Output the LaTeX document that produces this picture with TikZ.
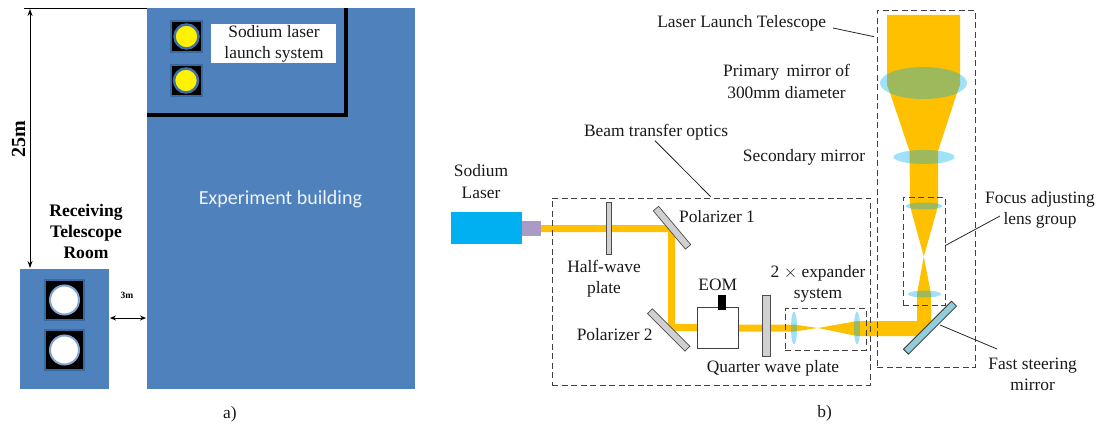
\documentclass[tikz,border=0pt]{standalone}
\usepackage{fontspec}
\setmainfont{Liberation Serif}
\newfontfamily\calib{Carlito}
\usetikzlibrary{arrows.meta,shapes.geometric}
\definecolor{bldg}{HTML}{4F81BD}
\definecolor{halo}{HTML}{2F5F96}
\definecolor{beam}{HTML}{FFC000}
\definecolor{lensc}{HTML}{00B0F0}
\definecolor{laserc}{HTML}{00B0F0}
\definecolor{purp}{HTML}{A99BC6}
\definecolor{plate}{HTML}{D0D0D0}
\definecolor{fsm}{HTML}{92CDDC}
\tikzset{
 lbl/.style={font=\fontsize{17.4}{21.3}\selectfont,inner sep=0pt,align=center,text=black!90},
 boldlbl/.style={font=\fontsize{17.6}{21.3}\selectfont\bfseries,inner sep=0pt,align=center},
 room/.style={fill=bldg,draw=none,inner sep=0pt},
 scope1/.style={fill=black,draw=halo!70!bldg,line width=2pt,inner sep=0pt,minimum size=#1},
 yell/.style={circle,fill=yellow,draw=halo!50!bldg,line width=2.5pt,inner sep=0pt,minimum size=24pt},
 whitec/.style={circle,fill=white,draw=bldg!70!white,line width=2pt,inner sep=0pt,minimum size=29pt},
 dashbox/.style={draw=black!75,line width=.8pt,dash pattern=on 6pt off 3.5pt,inner sep=0pt},
 leader/.style={draw=black!85,line width=.8pt},
 dim/.style={draw=black,line width=.9pt,{Stealth[length=7pt,width=5pt]}-{Stealth[length=7pt,width=5pt]}},
 optic/.style={fill=plate,draw=black!70,line width=.7pt,inner sep=0pt},
 lens/.style={ellipse,fill=lensc,fill opacity=.38,draw=none,inner sep=0pt},
 beamfill/.style={fill=beam,draw=none},
}
\begin{document}
\begin{tikzpicture}[x=1pt,y=-1pt]
\useasboundingbox (0,0) rectangle (1099,425);
% ===== panel a
\node[room,anchor=north west,minimum width=268pt,minimum height=381pt] (bldg) at (147,8) {};
\node[room,anchor=north west,minimum width=89pt,minimum height=120pt] (rtr) at (20,269) {};
\coordinate (wa) at (346,8);
\coordinate (wb) at (346,115);
\coordinate (wc) at (147,115);
\draw[line width=3.6pt,black,line join=miter] (wa) -- (wb) -- (wc);
\node[scope1=31pt] (ys1) at (186.5,36.5) {};
\node[yell] (yc1) at (186.5,36.5) {};
\node[scope1=31pt] (ys2) at (186,80.5) {};
\node[yell] (yc2) at (186,80.5) {};
\node[scope1=39.5pt] (ws1) at (64.5,300) {};
\node[whitec] (wc1) at (64.5,300) {};
\node[scope1=39.5pt] (ws2) at (64.5,350) {};
\node[whitec] (wc2) at (64.5,350) {};
\node[fill=white,inner sep=0pt,minimum width=125pt,minimum height=39pt] (slbox) at (273.5,43.5) {};
\node[lbl] (sl) at (274,44) {Sodium laser\\launch system};
\node[font=\calib\fontsize{20}{24}\selectfont,text=white!90!bldg,inner sep=0pt] (eb) at (280.5,199) {Experiment building};
\node[boldlbl] (rt) at (86,231.5) {Receiving\\Telescope\\Room};
\node[font=\fontsize{20}{24}\selectfont\bfseries,rotate=90,inner sep=0pt] (h25) at (18.5,139) {25m};
\node[font=\fontsize{9.5}{11}\selectfont\bfseries,inner sep=0pt] (m3) at (127,295) {3m};
\node[lbl] (capa) at (230,414) {a)};
\coordinate (tl) at (24,8);
\coordinate (tr) at (147,8);
\draw[draw=black,line width=.8pt] (tl) -- (tr);
\coordinate (d1) at (30,9);
\coordinate (d2) at (30,268);
\draw[dim] (d1) -- (d2);
\coordinate (e1) at (110,318);
\coordinate (e2) at (146,318);
\draw[dim,{Stealth[length=6pt,width=5pt]}-{Stealth[length=6pt,width=5pt]}] (e1) -- (e2);
% ===== panel b: beam
\fill[beamfill] (541,225) -- (669.5,225) -- (675,231.5) -- (675,324) -- (700,324) -- (700,331) -- (668,331) -- (668,232) -- (541,232) -- cycle;
\fill[beamfill] (738,324.5) -- (794,324.5) -- (818,328) -- (857,321) -- (917,321) -- (917,294) -- (923.8,256.5) -- (910,206) -- (909.5,151) -- (890,93) -- (887,85) -- (887,15) -- (960,15) -- (960,85) -- (957,93) -- (938,151) -- (938,206) -- (923.8,256.5) -- (931,294) -- (931,327) -- (922,336) -- (857,336) -- (818,328) -- (794,331.5) -- (738,331.5) -- cycle;
% lenses
\node[lens,minimum width=87pt,minimum height=32pt] (prim) at (923.5,83) {};
\node[lens,minimum width=61pt,minimum height=14pt] (sec) at (924,157) {};
\node[lens,minimum width=37pt,minimum height=7pt] (fl1) at (924,206) {};
\node[lens,minimum width=33pt,minimum height=7pt] (fl2) at (924.5,294) {};
\node[lens,minimum width=6pt,minimum height=33pt] (ex1) at (794,328) {};
\node[lens,minimum width=6pt,minimum height=33pt] (ex2) at (857,328) {};
% sources and optics
\node[fill=laserc,inner sep=0pt,minimum width=71pt,minimum height=32pt,anchor=north west] (laser) at (451,212) {};
\node[fill=purp,inner sep=0pt,minimum width=19pt,minimum height=15pt,anchor=north west] (head) at (522,221) {};
\node[optic,minimum width=5pt,minimum height=52pt] (hwp) at (608.5,228) {};
\node[optic,minimum width=50pt,minimum height=7pt,rotate=-50] (pol1) at (672,227.7) {};
\node[optic,minimum width=53pt,minimum height=7pt,rotate=-45] (pol2) at (668.7,330) {};
\node[fill=white,draw=black!75,line width=.8pt,inner sep=0pt,minimum size=41pt,anchor=north west] (eom) at (697,307) {};
\node[fill=black,inner sep=0pt,minimum width=8.5pt,minimum height=15pt,anchor=north west] (tab) at (717.5,295) {};
\node[optic,minimum width=8pt,minimum height=61pt] (qwp) at (766.8,325.5) {};
\node[fill=fsm,draw=black!80,line width=.8pt,inner sep=0pt,minimum width=68pt,minimum height=7pt,rotate=45] (mir) at (930,327.7) {};
% dashed boxes
\node[dashbox,anchor=north west,minimum width=318pt,minimum height=187pt] (btobox) at (552,197.5) {};
\node[dashbox,anchor=north west,minimum width=98pt,minimum height=357pt] (lltbox) at (877,10) {};
\node[dashbox,anchor=north west,minimum width=42pt,minimum height=108pt] (fbox) at (903,197) {};
\node[dashbox,anchor=north west,minimum width=80.5pt,minimum height=42pt] (exbox) at (785,308) {};
% labels
\node[lbl] (llt) at (741.7,23) {Laser Launch Telescope};
\node[lbl] (pm) at (786.5,81.5) {Primary\, mirror of\\300mm diameter};
\node[lbl] (bto) at (656,132) {Beam transfer optics};
\node[lbl] (sm) at (804,157) {Secondary mirror};
\node[lbl] (sod) at (481,181.5) {Sodium\\Laser};
\node[lbl] (p1) at (717,217) {Polarizer 1};
\node[lbl] (hw) at (604,278.5) {Half-wave\\plate};
\node[lbl] (eoml) at (717.7,285) {EOM};
\node[lbl] (exl) at (818,283.5) {2 $\times$ expander\\system};
\node[lbl] (p2) at (614.7,335) {Polarizer 2};
\node[lbl] (qw) at (773,368) {Quarter wave plate};
\node[lbl] (fa) at (1040,210) {Focus adjusting\\lens group};
\node[lbl] (fs) at (1032.7,374.5) {Fast steering\\mirror};
\node[lbl] (capb) at (824.7,413) {b)};
% leaders
\coordinate (l1a) at (833,28); \coordinate (l1b) at (874,36.7);
\coordinate (l2a) at (655,140.7); \coordinate (l2b) at (710.7,196.7);
\coordinate (l3a) at (1000,216); \coordinate (l3b) at (945,245.7);
\coordinate (l4a) at (940,325); \coordinate (l4b) at (997,349);
\draw[leader] (l1a) -- (l1b);
\draw[leader] (l2a) -- (l2b);
\draw[leader] (l3a) -- (l3b);
\draw[leader] (l4a) -- (l4b);
\end{tikzpicture}
\end{document}
